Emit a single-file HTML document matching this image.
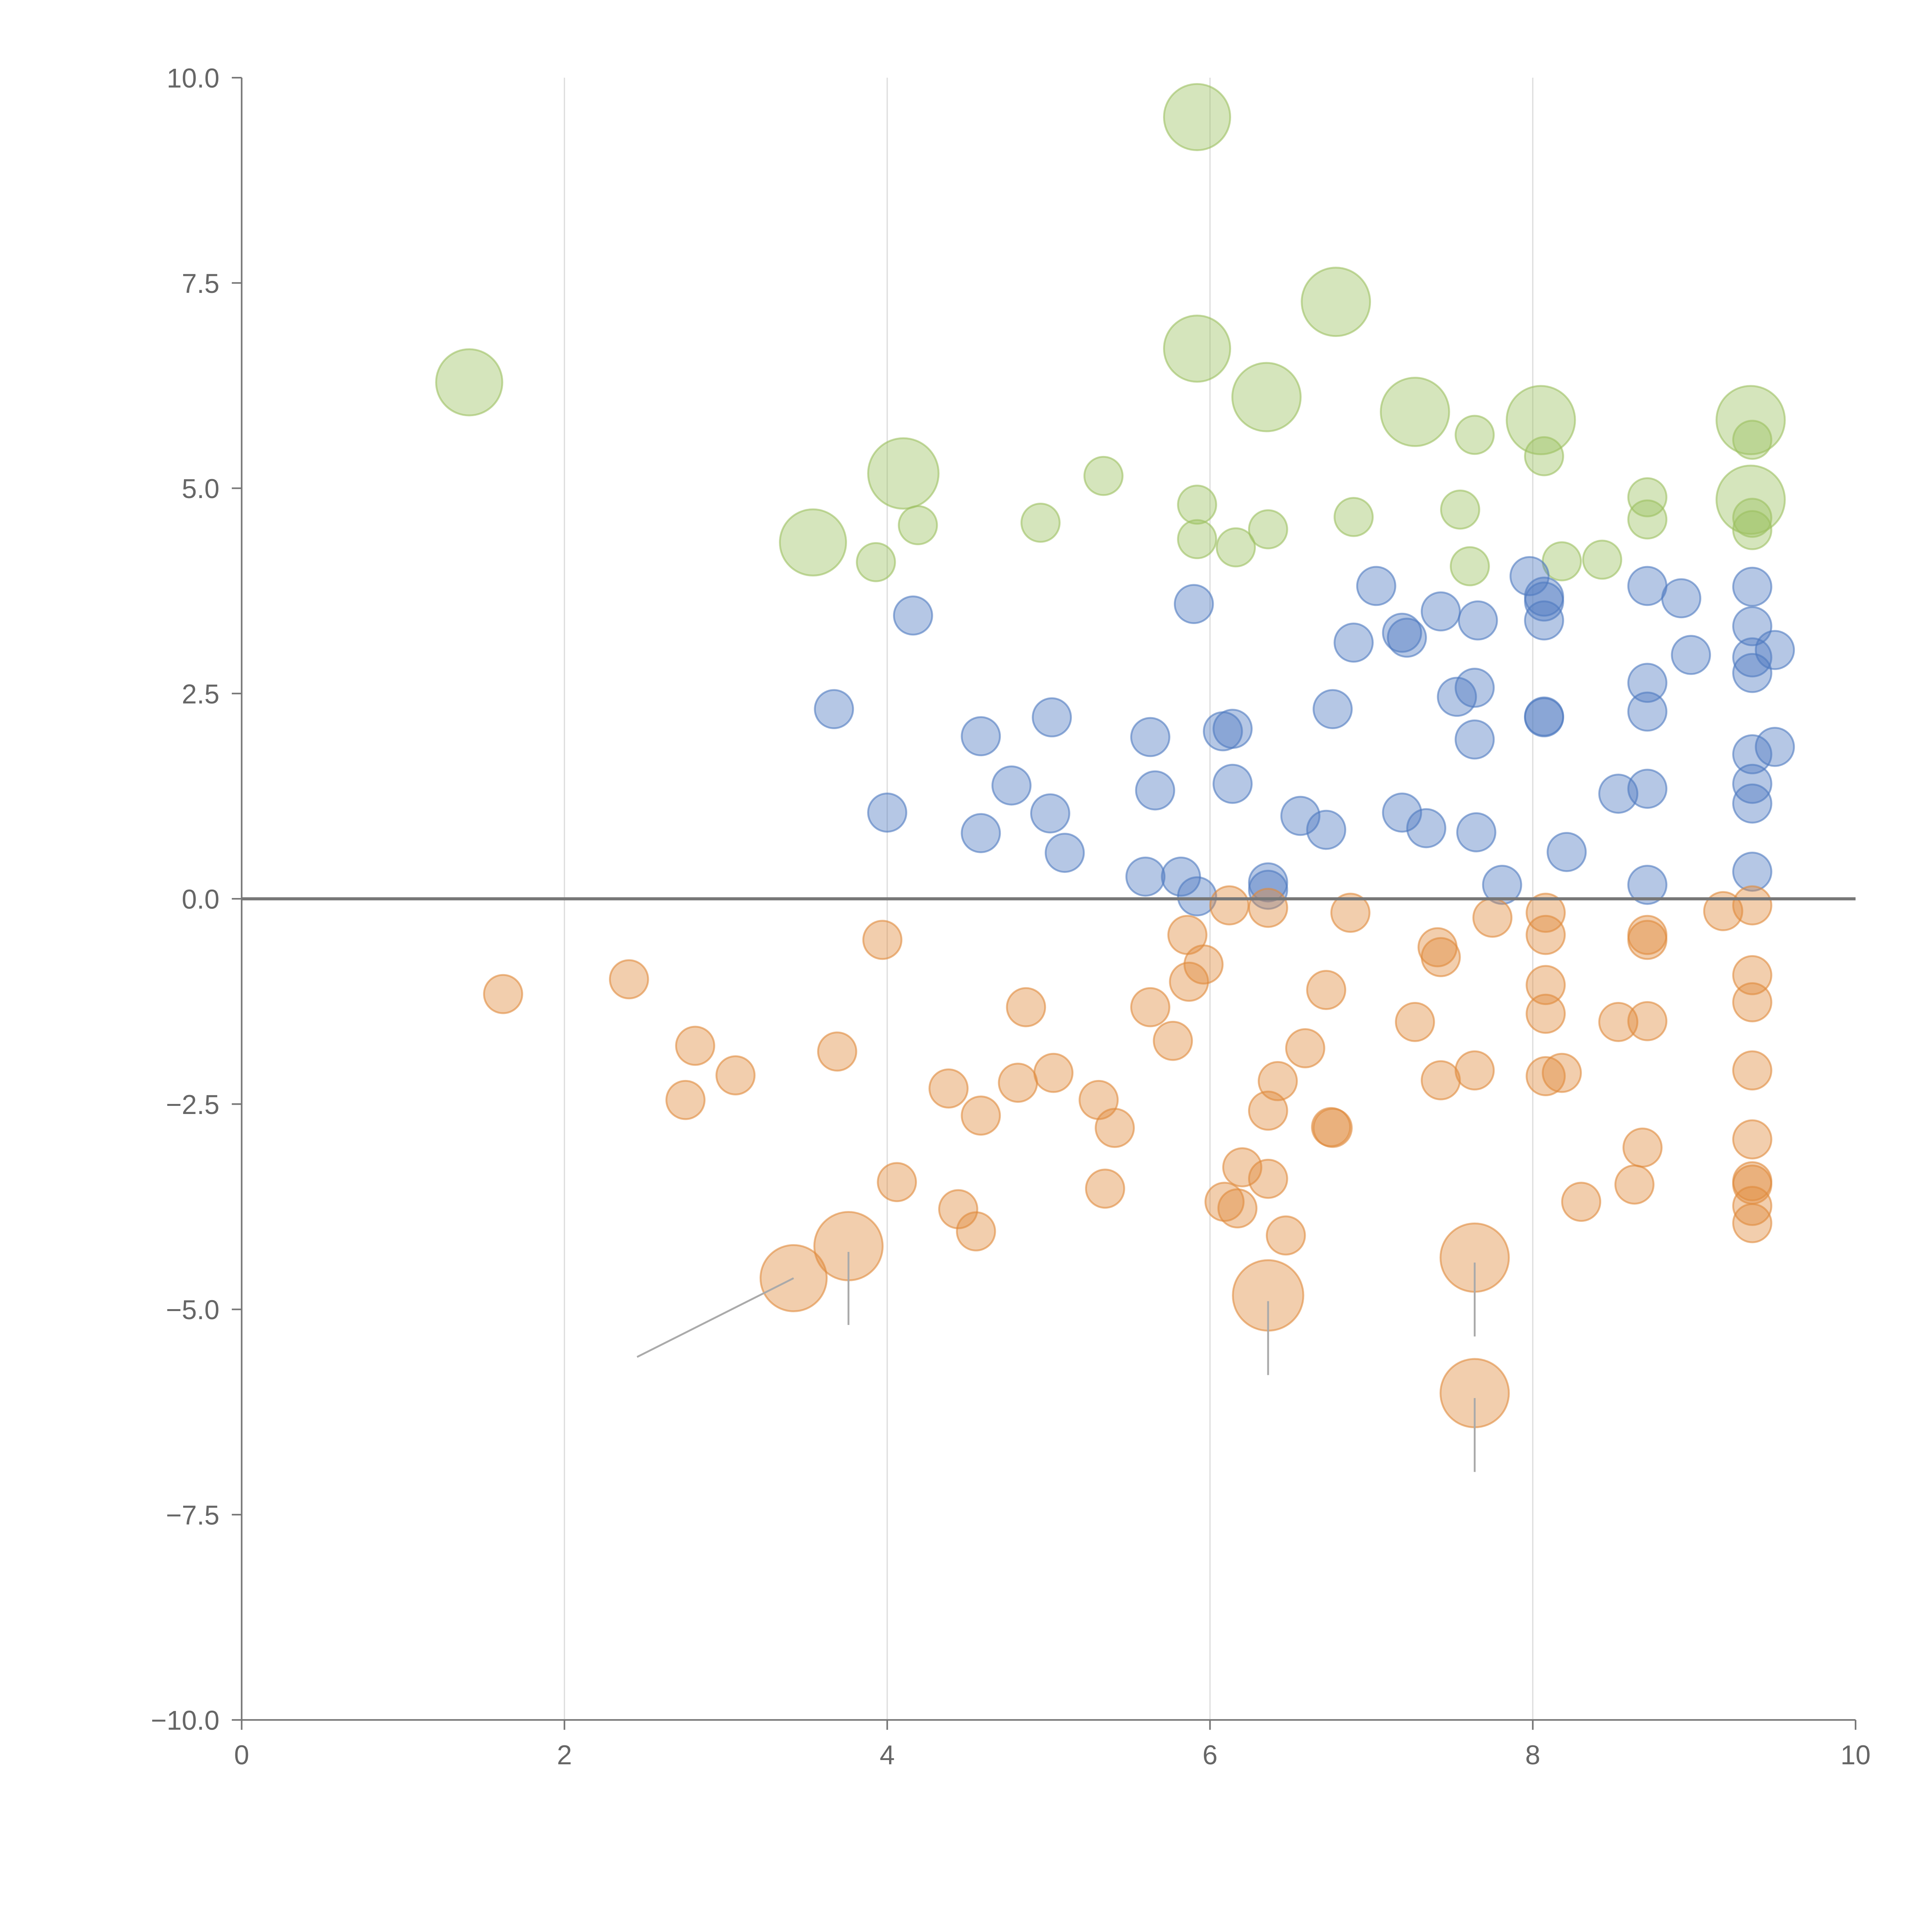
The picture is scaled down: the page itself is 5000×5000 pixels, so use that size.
<!DOCTYPE html>
<html><head><meta charset="utf-8"><style>html,body{margin:0;padding:0;background:#fff}svg{display:block}</style></head>
<body>
<svg id="chart" width="5000" height="5000" viewBox="0 0 1567 1567" xmlns="http://www.w3.org/2000/svg" font-family="Liberation Sans, sans-serif">
<g id="grid"></g>
<g id="marks"></g>
<g id="axes"></g>
</svg>
<script>
const xTicks = [0, 2, 4, 6, 8, 10];
const yTicks = [10, 7.5, 5, 2.5, 0, -2.5, -5, -7.5, -10];
const yTickLabels = ["10.0", "7.5", "5.0", "2.5", "0.0", "\u22122.5", "\u22125.0", "\u22127.5", "\u221210.0"];
const greenX = [3.93,4.19,4.95,5.34,5.92,5.92,6.16,6.36,6.89,7.55,7.61,7.64,8.07,8.18,8.43,8.71,8.71,9.36,9.36,9.36, 1.41,3.54,4.10,5.92,5.92,6.35,6.78,7.27,8.05,9.35,9.35];
const greenY = [4.10,4.55,4.58,5.15,4.80,4.38,4.28,4.50,4.65,4.74,4.05,5.65,5.39,4.11,4.13,4.89,4.62,5.59,4.64,4.49, 6.29,4.34,5.18,9.52,6.70,6.11,7.27,5.93,5.83,5.83,4.86];
const greenS = [1,1,1,1,1,1,1,1,1,1,1,1,1,1,1,1,1,1,1,1, 3.0,3.0,3.4,3.0,3.0,3.2,3.2,3.2,3.2,3.2,3.2];
const blueX = [3.67,4.16,4.00,4.58,4.58,4.77,5.02,5.01,5.10,5.63,5.66,5.90,5.60,5.82,5.92,6.08,6.14,6.14,6.36,6.36,6.56,6.72,6.76,6.89,7.03,7.19,7.22,7.19,7.34,7.43,7.53,7.64,7.66,7.64,7.65,7.81,7.98,8.07,8.07,8.07,8.07,8.07,8.21,8.53,8.71,8.71,8.71,8.71,8.71,8.92,8.98,9.36,9.36,9.36,9.36,9.36,9.36,9.36,9.36,9.50,9.50];
const blueY = [2.31,3.45,1.05,1.98,0.80,1.38,2.21,1.04,0.56,1.97,1.32,3.59,0.27,0.27,0.03,2.04,2.07,1.40,0.20,0.11,1.01,0.84,2.31,3.12,3.81,3.24,3.18,1.05,0.86,3.50,2.46,2.57,3.39,1.94,0.81,0.17,3.93,3.68,3.62,3.39,2.22,2.21,0.57,1.28,3.81,2.63,2.28,1.34,0.17,3.66,2.97,3.80,3.32,2.94,2.75,1.76,1.40,1.16,0.33,3.03,1.85];
const orangeX = [1.62,2.40,2.75,2.81,3.06,3.69,3.97,4.06,4.38,4.44,4.55,4.58,4.81,4.86,5.03,5.31,5.35,5.41,5.63,5.77,5.86,5.87,5.96,6.12,6.09,6.17,6.20,6.36,6.36,6.42,6.36,6.47,6.59,6.72,6.75,6.76,6.87,7.27,7.41,7.43,7.43,7.64,7.75,8.08,8.08,8.08,8.08,8.08,8.18,8.30,8.53,8.63,8.68,8.71,8.71,8.71,9.18,9.36,9.36,9.36,9.36,9.36,9.36,9.36,9.36,9.36, 3.42,3.76,6.36,7.64,7.64];
const orangeY = [-1.16,-0.98,-2.45,-1.79,-2.15,-1.86,-0.50,-3.45,-2.31,-3.78,-4.05,-2.64,-2.24,-1.32,-2.12,-2.45,-3.53,-2.79,-1.32,-1.73,-0.44,-1.01,-0.80,-0.08,-3.69,-3.77,-3.27,-0.11,-2.58,-2.22,-3.41,-4.10,-1.82,-1.11,-2.78,-2.79,-0.17,-1.50,-0.59,-0.71,-2.21,-2.09,-0.23,-0.17,-0.44,-1.05,-1.40,-2.16,-2.12,-3.69,-1.50,-3.48,-3.03,-0.44,-0.50,-1.49,-0.15,-0.08,-0.93,-1.26,-2.09,-2.93,-3.44,-3.48,-3.74,-3.95, -4.62,-4.23,-4.83,-4.37,-6.02];
const orangeS = orangeX.map((v,i)=> i>=66 ? [3.0,3.2,3.4,3.2,3.2][i-66] : 1);
const leaderFrom = [[3.42,-4.62],[3.76,-4.30],[6.36,-4.90],[7.64,-4.43],[7.64,-6.08]];
const leaderTo = [[2.45,-5.58],[3.76,-5.19],[6.36,-5.80],[7.64,-5.33],[7.64,-6.98]];

const X0=196, X1=1505, Y0=1395, Y1=63;
const xs = v => X0 + (v-0)/(10-0)*(X1-X0);
const ys = v => Y0 - (v+10)/20*(Y0-Y1);
const NS='http://www.w3.org/2000/svg';
function mk(tag, parent, attrs){const e=document.createElementNS(NS,tag);for(const k in attrs)e.setAttribute(k,attrs[k]);parent.appendChild(e);return e;}
const grid=document.getElementById('grid'), marks=document.getElementById('marks'), axes=document.getElementById('axes');

xTicks.forEach(t=>{ if(t>0&&t<10){const l=mk('line',grid,{x1:xs(t),x2:xs(t),y1:Y1,y2:Y0,stroke:'#dddddd','stroke-width':1});

}});

function series(xa,ya,sa,fill,name){
  xa.forEach((x,i)=>{const s=sa?sa[i]:1;
    const c=mk('circle',marks,{cx:xs(x),cy:ys(ya[i]),r:15.5*Math.sqrt(s),fill:fill,'fill-opacity':0.42,stroke:fill,'stroke-opacity':0.6,'stroke-width':1.5});
    
    });
}
series(greenX,greenY,greenS,'#9cc060','bubble-green');
series(blueX,blueY,null,'#4e79c0','bubble-blue');
series(orangeX,orangeY,orangeS,'#e08a3c','bubble-orange');

leaderFrom.forEach((p,i)=>{const q=leaderTo[i];
  const l=mk('line',marks,{x1:xs(p[0]),y1:ys(p[1]),x2:xs(q[0]),y2:ys(q[1]),stroke:'#aaaaaa','stroke-width':1.5});
  
  });

const zl=mk('line',axes,{x1:X0,x2:X1,y1:ys(0),y2:ys(0),stroke:'#777','stroke-width':2.5});


const ya=mk('line',axes,{x1:X0,x2:X0,y1:Y1,y2:Y0,stroke:'#777','stroke-width':1.3});


const xa=mk('line',axes,{x1:X0,x2:X1,y1:Y0,y2:Y0,stroke:'#777','stroke-width':1.3});


yTicks.forEach((t,i)=>{
  const tk=mk('line',axes,{x1:X0-8,x2:X0,y1:ys(t),y2:ys(t),stroke:'#777','stroke-width':1.3});
  
  
  const tx=mk('text',axes,{x:X0-18,y:ys(t)+8,'text-anchor':'end','font-size':22,fill:'#666'});
  tx.textContent=yTickLabels[i];
  
  
});
xTicks.forEach(t=>{
  const tk=mk('line',axes,{x1:xs(t),x2:xs(t),y1:Y0,y2:Y0+8,stroke:'#777','stroke-width':1.3});
  
  
  const tx=mk('text',axes,{x:xs(t),y:Y0+36,'text-anchor':'middle','font-size':22,fill:'#666'});
  tx.textContent=String(t);
  
  
});
</script>
</body></html>
